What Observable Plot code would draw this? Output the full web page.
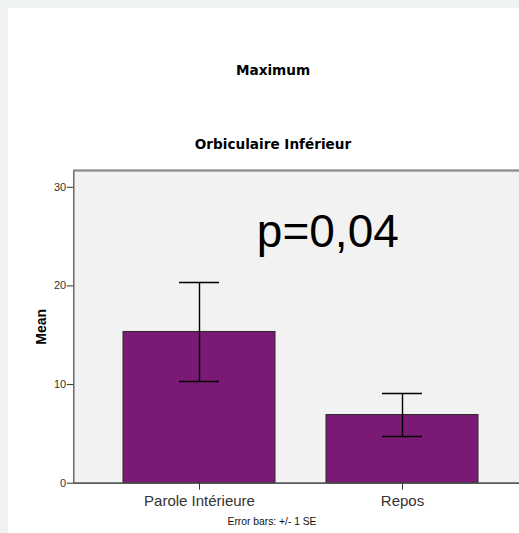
<!DOCTYPE html>
<html><head><meta charset="utf-8">
<script src="https://cdn.jsdelivr.net/npm/d3@7"></script>
<script src="https://cdn.jsdelivr.net/npm/@observablehq/plot@0.6"></script>
<style>
html,body{margin:0;padding:0;width:519px;height:533px;overflow:hidden;background:#eef2f3;}
#panel{position:absolute;left:8px;top:8px;width:560px;height:540px;background:#fff;}
.t{position:absolute;transform:translate(-50%,-50%);white-space:nowrap;line-height:1;color:#000;}
svg{max-width:none !important;}
</style></head><body>
<div id="panel"></div>
<div class="t" style="left:273px;top:70px;font:bold 13.6px 'DejaVu Sans',sans-serif;">Maximum</div>
<div class="t" style="left:273px;top:144px;font:bold 13.6px 'DejaVu Sans',sans-serif;">Orbiculaire Inférieur</div>
<div class="t" style="left:272px;top:521px;font:10.3px 'Liberation Sans',Arial,sans-serif;color:#111;">Error bars: +/- 1 SE</div>
<script>
const categories = ["Parole Intérieure", "Repos"];
const means = [15.33, 6.91];
const errors = [5.02, 2.18];
const yTicks = [0, 10, 20, 30];
const yMax = 31.7;
const yLabel = "Mean";
const annotation = "p=0,04";

const data = categories.map((c, i) => ({cat: c, mean: means[i], se: errors[i]}));

const chart = Plot.plot({
  width: 540,
  height: 383,
  marginLeft: 65.3,
  marginRight: 21,
  marginTop: 20,
  marginBottom: 50.3,
  style: {position: "absolute", left: "8px", top: "150px", maxWidth: "none", width: "540px", height: "383px", background: "transparent", overflow: "visible", fontFamily: "'Liberation Sans', Arial, sans-serif"},
  x: {domain: categories, paddingInner: 0.25, paddingOuter: 0.24, axis: null},
  y: {domain: [0, yMax], axis: null},
  marks: [
    Plot.frame({fill: "#f2f2f2", stroke: "#555", strokeWidth: 1.3}),
    Plot.ruleY([yMax], {stroke: "#8a8a8a", strokeWidth: 2}),
    Plot.barY(data, {x: "cat", y: "mean", fill: "#7a1a74", stroke: "#2a2a2a", strokeWidth: 1}),
    Plot.ruleY([0], {stroke: "#555", strokeWidth: 1.3}),
    Plot.ruleX(data, {x: "cat", y1: d => d.mean - d.se, y2: d => d.mean + d.se, stroke: "#000", strokeWidth: 1.4}),
    Plot.tickY(data, {x: "cat", y: d => d.mean - d.se, insetLeft: 56, insetRight: 56, stroke: "#000", strokeWidth: 1.4}),
    Plot.tickY(data, {x: "cat", y: d => d.mean + d.se, insetLeft: 56, insetRight: 56, stroke: "#000", strokeWidth: 1.4}),
    Plot.axisY({ticks: yTicks, tickSize: 6.6, tickPadding: 1, fontSize: 11, color: "#333", label: null}),
    Plot.axisX({tickSize: 7, tickPadding: 5, fontSize: 15, color: "#333", label: null}),
    Plot.text([yLabel], {frameAnchor: "left", rotate: -90, dx: -32, fontSize: 14, fontWeight: "bold", fill: "#000", textAnchor: "middle", lineAnchor: "middle"}),
    Plot.text([annotation], {frameAnchor: "top-left", dx: 254, dy: 62, fontSize: 46, fill: "#000", textAnchor: "middle", lineAnchor: "middle"})
  ]
});
document.body.appendChild(chart);
</script>
</body></html>
